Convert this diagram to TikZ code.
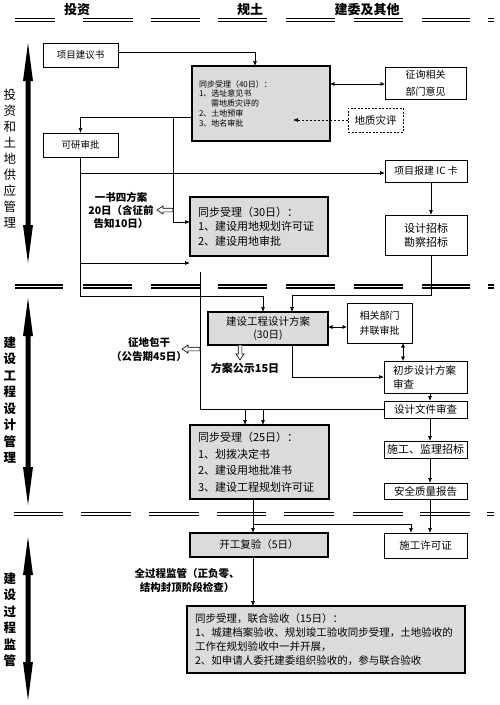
\documentclass[tikz,border=0pt]{standalone}
\usepackage{fontspec}
\setmainfont{Noto Sans CJK SC}
\usetikzlibrary{arrows.meta,calc}
\newcommand\sepline[2]{%
  \foreach \a/\b in {#2} {%
    \draw[line width=1.6pt] (\a,#1) -- (\b,#1);
    \draw[line width=1.6pt] (\a,{#1+3}) -- (\b,{#1+3});}}
\newcommand\sidearrow[3]{%
  \fill (#1,#2) -- ({#1+5},{#2+38}) -- ({#1+2.5},{#2+38}) -- ({#1+2.5},{#3-38}) -- ({#1+5},{#3-38}) -- (#1,#3)
   -- ({#1-5},{#3-38}) -- ({#1-2.5},{#3-38}) -- ({#1-2.5},{#2+38}) -- ({#1-5},{#2+38}) -- cycle;}
\newcommand\hollowL[3]{%
  \filldraw[fill=white, line width=0.6pt] (#1,#3) -- ({#1+6},{#3-4}) -- ({#1+6},{#3-1.8}) -- (#2,{#3-1.8})
   -- (#2,{#3+1.8}) -- ({#1+6},{#3+1.8}) -- ({#1+6},{#3+4}) -- cycle;}
\newcommand\hollowD[3]{%
  \filldraw[fill=white, line width=0.6pt] (#1,#3) -- ({#1-4},{#3-6}) -- ({#1-1.8},{#3-6}) -- ({#1-1.8},#2)
   -- ({#1+1.8},#2) -- ({#1+1.8},{#3-6}) -- ({#1+4},{#3-6}) -- cycle;}
\begin{document}
\begin{tikzpicture}[x=1pt,y=-1pt,
  every node/.style={inner sep=0pt, outer sep=0pt},
  wbox/.style={draw, line width=0.6pt, fill=white, align=center, anchor=north west},
  gbox/.style={draw, line width=1.5pt, fill=gray!28, anchor=north west},
  conn/.style={line width=0.7pt},
  arr/.style={conn, -{Latex[length=5pt,width=4pt]}},
  darr/.style={conn, {Latex[length=4.5pt,width=4pt]}-{Latex[length=4.5pt,width=4pt]}},
  note/.style={font=\bfseries\fontsize{10.5}{14}\selectfont, align=center},
  head/.style={font=\bfseries\fontsize{13}{15}\selectfont},
  sidea/.style={font=\fontsize{12.5}{16}\selectfont, align=center},
  sideb/.style={font=\bfseries\fontsize{12.5}{16.5}\selectfont, align=center},
]
\fill[white] (0,0) rectangle (500,705);
\useasboundingbox (0,0) rectangle (500,705);

% separators
\sepline{18.5}{15/55,83/133,151/200,218/267,286/335,354/403,422/470,488/494}
\sepline{285}{15/63,83/132,151/200,218/267,286/335,354/403,422/470,488/494}
\sepline{512.5}{14/63,81/131,149/199,217/266,284/334,353/403,420/470,487/494}

% headers
\node[head] (h1) at (77,10) {投资};
\node[head] (h2) at (250,10) {规土};
\node[head] (h3) at (367,10) {建委及其他};

% side arrows and labels
\sidearrow{28}{43}{263}
\sidearrow{28}{298}{505}
\sidearrow{28}{537}{700}
\node[sidea] (sl1) at (10,159) {投\\资\\和\\土\\地\\供\\应\\管\\理};
\node[sideb] (sl2) at (10,400) {建\\设\\工\\程\\设\\计\\管\\理};
\node[sideb] (sl3) at (10,620) {建\\设\\过\\程\\监\\管};

% nodes
\node[wbox, font=\fontsize{9.5}{12}\selectfont, minimum width=75pt, minimum height=24pt] (jys) at (43,43) {项目建议书};
\node[gbox, minimum width=138pt, minimum height=75pt, text width=124pt, inner xsep=7pt, align=left,
  font=\fontsize{8}{9.8}\selectfont] (k40) at (192,66)
  {同步受理（40日）：\\1、选址意见书\\\hspace*{1.5em}需地质灾评的\\2、土地预审\\3、地名审批};
\node[wbox, font=\fontsize{10}{17}\selectfont, minimum width=81pt, minimum height=32pt] (zxbm) at (385,67) {征询相关\\部门意见};
\node[wbox, dash pattern=on 2pt off 1.5pt, font=\fontsize{10.5}{13}\selectfont, minimum width=55pt, minimum height=24pt] (dzzp) at (348,108) {地质灾评};
\node[wbox, font=\fontsize{9.5}{12}\selectfont, minimum width=75pt, minimum height=24pt] (ky) at (43,133) {可研审批};
\node[wbox, font=\fontsize{10}{12}\selectfont, minimum width=82pt, minimum height=22pt] (ic) at (385,160) {项目报建 IC 卡};
\node[gbox, minimum width=138pt, minimum height=59pt, text width=122pt, inner xsep=8pt, align=left,
  font=\fontsize{11}{14.5}\selectfont] (k30) at (190,197)
  {同步受理（30日）：\\1、建设用地规划许可证\\2、建设用地审批};
\node[wbox, font=\fontsize{11}{14}\selectfont, minimum width=82pt, minimum height=40pt] (sjzb) at (385,215) {设计招标\\勘察招标};

\node[gbox, minimum width=120pt, minimum height=33pt, align=center, font=\fontsize{10.5}{13}\selectfont] (sjfa) at (208,312) {建设工程设计方案\\(30日)};
\node[wbox, font=\fontsize{10}{15}\selectfont, minimum width=65pt, minimum height=40pt] (xgbm) at (347,303) {相关部门\\并联审批};
\node[wbox, align=left, text width=65pt, inner xsep=9pt, font=\fontsize{10.5}{14}\selectfont, minimum width=83pt, minimum height=32pt] (cbsj) at (384,361) {初步设计方案\\审查};
\node[wbox, font=\fontsize{10.5}{12}\selectfont, minimum width=83pt, minimum height=17pt] (sjwj) at (384,401) {设计文件审查};
\node[wbox, font=\fontsize{11}{12}\selectfont, minimum width=83pt, minimum height=17pt] (sgjl) at (384,441) {施工、监理招标};
\node[wbox, font=\fontsize{10.5}{12}\selectfont, minimum width=83pt, minimum height=16pt] (aqzl) at (384,483) {安全质量报告};
\node[gbox, minimum width=139pt, minimum height=74pt, text width=123pt, inner xsep=8pt, align=left,
  font=\fontsize{11}{16.5}\selectfont] (k25) at (190,425)
  {同步受理（25日）：\\1、划拨决定书\\2、建设用地批准书\\3、建设工程规划许可证};

\node[gbox, minimum width=138pt, minimum height=24pt, align=center, font=\fontsize{10.5}{12}\selectfont] (kgfy) at (190,533) {开工复验（5日）};
\node[wbox, font=\fontsize{10.5}{12}\selectfont, minimum width=83pt, minimum height=25pt] (sgxk) at (384,533) {施工许可证};
\node[gbox, minimum width=278pt, minimum height=67pt, text width=262pt, inner xsep=8pt, align=left,
  font=\fontsize{10.5}{14}\selectfont] (lhys) at (187,606)
  {同步受理，联合验收（15日）：\\1、城建档案验收、规划竣工验收同步受理，土地验收的\\工作在规划验收中一并开展，\\2、如申请人委托建委组织验收的，参与联合验收};

% notes
\node[note, font=\bfseries\fontsize{10.5}{13}\selectfont] (yssf) at (121,210) {一书四方案\\20日（含征前\\告知10日）};
\node[note] (zdbg) at (149,350) {征地包干\\（公告期45日）};
\node[note, font=\bfseries\fontsize{11}{13}\selectfont] (fags) at (245,368) {方案公示15日};
\node[note] (qgc) at (187,580) {全过程监管（正负零、\\结构封顶阶段检查）};

% connectors
\coordinate (p1) at (255,52);
\draw[arr] (jys.east |- p1) -- (p1) -- (p1 |- k40.north);
\coordinate (p2) at (0,84);
\draw[darr] (k40.east |- p2) -- (zxbm.west |- p2);
\coordinate (p3) at (293,120);
\draw[arr, dash pattern=on 2.5pt off 1.5pt] (dzzp.west) -- (p3 |- dzzp.west);
\coordinate (p4) at (80.5,117);
\draw[arr] (k40.west |- p4) -- (p4) -- (p4 |- ky.north);
\coordinate (p5) at (173,117);
\coordinate (p6) at (173,222);
\draw[arr] (p5) -- (p6) -- (p6 -| k30.west);
\hollowL{157}{173}{210}
\coordinate (p8) at (263,296);
\draw[arr] (ky.south) -- (ky.south |- p8) -- (p8) -- (p8 |- sjfa.north);
\coordinate (p9) at (80.5,173);
\draw[arr] (p9) -- (p9 -| ic.west);
\coordinate (p10) at (80.5,263);
\coordinate (p11) at (190,263);
\draw[arr] (p10) -- (p11);

\coordinate (q1) at (200,272);
\coordinate (q2) at (200,409);
\draw[conn] (q1) -- (q2) -- (q2 -| sjwj.west);
\coordinate (q3) at (245,409);
\draw[arr] (q3) -- (q3 |- k25.north);
\coordinate (q4) at (263,409);
\draw[arr] (q4) -- (q4 |- k25.north);
\hollowL{182}{200}{349}

\coordinate (r1) at (431,0);
\draw[arr] (ic.south -| r1) -- (sjzb.north -| r1);
\coordinate (r2) at (431,295);
\coordinate (r3) at (292,295);
\draw[arr] (sjzb.south -| r1) -- (r2) -- (r3) -- (r3 |- sjfa.north);

\coordinate (s1) at (0,327);
\draw[darr] (sjfa.east |- s1) -- (xgbm.west |- s1);
\coordinate (s2) at (403,0);
\draw[darr] (xgbm.south -| s2) -- (cbsj.north -| s2);
\coordinate (s3) at (292,377);
\draw[arr] (sjfa.south -| s3) -- (s3) -- (s3 -| cbsj.west);
\hollowD{240}{345}{360}

\coordinate (t1) at (430,0);
\draw[arr] (cbsj.south -| t1) -- (sjwj.north -| t1);
\draw[arr] (sjwj.south -| t1) -- (sgjl.north -| t1);
\draw[arr] (sgjl.south -| t1) -- (aqzl.north -| t1);
\draw[arr] (aqzl.south -| t1) -- (sgxk.north -| t1);

\coordinate (u1) at (253,524);
\coordinate (u2) at (411,524);
\draw[arr] (k25.south -| u1) -- (kgfy.north -| u1);
\draw[arr] (u1) -- (u2) -- (u2 |- sgxk.north);
\draw[arr] (kgfy.south -| u1) -- (lhys.north -| u1);
\end{tikzpicture}
\end{document}
